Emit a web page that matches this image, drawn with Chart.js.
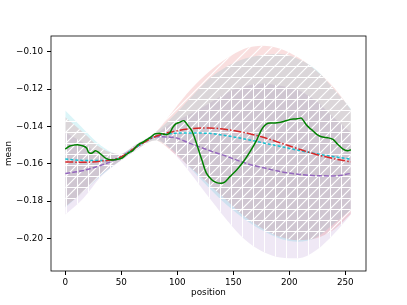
<!DOCTYPE html>
<html>
<head>
<meta charset="utf-8">
<script src="https://cdn.jsdelivr.net/npm/chart.js@4/dist/chart.umd.min.js"></script>
<style>
html, body { margin: 0; padding: 0; background: #fff; }
canvas { display: block; }
</style>
</head>
<body>
<canvas id="chart" width="407" height="305"></canvas>
<script>
// positions where the band curves were read
var bandX = [0, 16, 32, 48, 64, 80, 96, 112, 128, 144, 160, 176, 192, 208, 224, 240, 255];

// mean curves (red dash-dot, cyan dashed, purple dashed)
var redMean    = [-0.1590, -0.1592, -0.1586, -0.1568, -0.1508, -0.1455, -0.1428, -0.1412, -0.1408, -0.1416, -0.1433, -0.1457, -0.1488, -0.1520, -0.1550, -0.1573, -0.1590];
var cyanMean   = [-0.1575, -0.1582, -0.1583, -0.1568, -0.1508, -0.1455, -0.1437, -0.1435, -0.1437, -0.1450, -0.1467, -0.1487, -0.1507, -0.1528, -0.1546, -0.1562, -0.1575];
var purpleMean = [-0.1652, -0.1636, -0.1608, -0.1570, -0.1510, -0.1455, -0.1458, -0.1492, -0.1528, -0.1560, -0.1595, -0.1620, -0.1642, -0.1656, -0.1664, -0.1665, -0.1652];

// band edges
var redUpper    = [-0.1350, -0.1432, -0.1516, -0.1548, -0.1493, -0.1435, -0.1318, -0.1202, -0.1108, -0.1036, -0.0983, -0.0967, -0.0983, -0.1030, -0.1100, -0.1193, -0.1310];
var redLower    = [-0.1830, -0.1752, -0.1656, -0.1588, -0.1523, -0.1475, -0.1538, -0.1622, -0.1708, -0.1796, -0.1883, -0.1947, -0.1993, -0.2010, -0.2000, -0.1953, -0.1870];
var cyanUpper   = [-0.1315, -0.1412, -0.1503, -0.1548, -0.1493, -0.1435, -0.1347, -0.1245, -0.1147, -0.1080, -0.1037, -0.1017, -0.1012, -0.1038, -0.1096, -0.1202, -0.1305];
var cyanLower   = [-0.1835, -0.1752, -0.1663, -0.1588, -0.1523, -0.1475, -0.1527, -0.1625, -0.1727, -0.1820, -0.1897, -0.1957, -0.2002, -0.2018, -0.1996, -0.1922, -0.1845];
var purpleUpper = [-0.1432, -0.1486, -0.1548, -0.1550, -0.1495, -0.1445, -0.1378, -0.1332, -0.1278, -0.1220, -0.1185, -0.1170, -0.1182, -0.1206, -0.1264, -0.1355, -0.1432];
var purpleLower = [-0.1872, -0.1786, -0.1668, -0.1590, -0.1525, -0.1465, -0.1538, -0.1652, -0.1778, -0.1900, -0.2005, -0.2070, -0.2102, -0.2106, -0.2064, -0.1975, -0.1872];

// green observed curve
var greenX = [0, 4, 8, 12, 16, 19, 21, 24, 27, 30, 33, 36, 41, 45, 48, 51, 54, 57, 60, 63, 66, 70, 72, 76, 80, 84, 87, 90, 93, 96, 99, 102, 106, 109, 113, 117, 120, 122, 126, 131, 135, 139, 142, 147, 153, 159, 165, 171, 175, 178, 181, 185, 189, 195, 201, 205, 208, 211, 215, 218, 221, 224, 227, 231, 234, 239, 243, 248, 252, 255];
var greenY = [-0.1521, -0.1505, -0.1500, -0.1499, -0.1505, -0.1515, -0.1540, -0.1542, -0.1530, -0.1540, -0.1555, -0.1570, -0.1580, -0.1578, -0.1575, -0.1568, -0.1553, -0.1540, -0.1531, -0.1510, -0.1494, -0.1482, -0.1473, -0.1458, -0.1440, -0.1437, -0.1440, -0.1444, -0.1437, -0.1405, -0.1385, -0.1378, -0.1369, -0.1391, -0.1423, -0.1488, -0.1545, -0.1580, -0.1650, -0.1687, -0.1701, -0.1705, -0.1700, -0.1669, -0.1633, -0.1589, -0.1535, -0.1472, -0.1420, -0.1395, -0.1383, -0.1382, -0.1380, -0.1373, -0.1362, -0.1360, -0.1358, -0.1356, -0.1390, -0.1408, -0.1423, -0.1440, -0.1451, -0.1458, -0.1460, -0.1469, -0.1494, -0.1521, -0.1530, -0.1525];

var xTicks = [0, 50, 100, 150, 200, 250];
var yTicks = [-0.20, -0.18, -0.16, -0.14, -0.12, -0.10];

function pts(xs, ys) {
    return xs.map(function(x, i) { return {x: x, y: ys[i]}; });
}

// white hatch tiles, like matplotlib hatches
function hatch(kind) {
    var s = 11;
    var c = document.createElement('canvas');
    c.width = s; c.height = s;
    var g = c.getContext('2d');
    g.strokeStyle = '#fff';
    g.fillStyle = '#fff';
    g.lineWidth = 1.2;
    if (kind === '/') {
        g.beginPath();
        g.moveTo(-1, s + 1); g.lineTo(s + 1, -1);
        g.moveTo(-1, 1); g.lineTo(1, -1);
        g.moveTo(s - 1, s + 1); g.lineTo(s + 1, s - 1);
        g.stroke();
    } else if (kind === '-') {
        g.fillRect(0, 0, s, 1);
    } else if (kind === '|') {
        g.fillRect(0, 0, 1, s);
    }
    return g.createPattern(c, 'repeat');
}

function band(upper, lower, color, order) {
    return [
        {data: pts(bandX, upper), fill: '+1', backgroundColor: color, borderWidth: 0, pointRadius: 0,
         cubicInterpolationMode: 'monotone', order: order},
        {data: pts(bandX, lower), fill: false, borderWidth: 0, pointRadius: 0,
         cubicInterpolationMode: 'monotone', order: order}
    ];
}

function meanLine(ys, color, dash, order) {
    return {data: pts(bandX, ys), borderColor: color, borderWidth: 1.5, borderDash: dash,
            pointRadius: 0, fill: false, cubicInterpolationMode: 'monotone', order: order};
}

var datasets = [];
// translucent fills first (drawn underneath)
datasets = datasets.concat(band(redUpper, redLower, 'rgba(214,39,40,0.15)', 30));
datasets = datasets.concat(band(cyanUpper, cyanLower, 'rgba(23,190,207,0.15)', 31));
datasets = datasets.concat(band(purpleUpper, purpleLower, 'rgba(148,103,189,0.15)', 32));
// hatches on top of the fills
datasets = datasets.concat(band(redUpper, redLower, hatch('/'), 20));
datasets = datasets.concat(band(cyanUpper, cyanLower, hatch('-'), 21));
datasets = datasets.concat(band(purpleUpper, purpleLower, hatch('|'), 22));
// lines
datasets.push(meanLine(purpleMean, '#9467bd', [5, 2], 4));
datasets.push(meanLine(cyanMean, '#17becf', [3, 2], 3));
datasets.push(meanLine(redMean, '#d62728', [8, 2, 1.5, 2], 2));
datasets.push({data: pts(greenX, greenY), borderColor: '#008000', borderWidth: 1.5, pointRadius: 0,
               fill: false, tension: 0.3, order: 1});

var boxPlugin = {
    id: 'box',
    afterDraw: function(chart) {
        var a = chart.chartArea;
        var ctx = chart.ctx;
        ctx.save();
        ctx.strokeStyle = '#000';
        ctx.lineWidth = 0.8;
        ctx.strokeRect(a.left, a.top, a.right - a.left, a.bottom - a.top);
        ctx.restore();
    }
};

var font = {family: 'DejaVu Sans', size: 8.8};

new Chart(document.getElementById('chart').getContext('2d'), {
    type: 'line',
    data: {datasets: datasets},
    options: {
        responsive: false,
        animation: false,
        devicePixelRatio: 1,
        layout: {padding: {left: 0, top: 36, right: 41, bottom: 0}},
        plugins: {legend: {display: false}, tooltip: {enabled: false}},
        scales: {
            x: {
                type: 'linear',
                min: -12.75,
                max: 268.5,
                afterBuildTicks: function(scale) {
                    scale.ticks = xTicks.map(function(v) { return {value: v}; });
                },
                afterFit: function(scale) { scale.height = 34; },
                grid: {drawOnChartArea: false, drawTicks: true, tickLength: 4, color: '#000'},
                border: {display: false},
                ticks: {color: '#000', font: font, padding: 2, maxRotation: 0},
                title: {display: true, text: 'position', color: '#000', font: font, padding: {top: 0, bottom: 7}}
            },
            y: {
                type: 'linear',
                min: -0.2175,
                max: -0.0915,
                afterBuildTicks: function(scale) {
                    scale.ticks = yTicks.map(function(v) { return {value: v}; });
                },
                afterFit: function(scale) { scale.width = 51; },
                grid: {drawOnChartArea: false, drawTicks: true, tickLength: 4, color: '#000'},
                border: {display: false},
                ticks: {
                    color: '#000', font: font, padding: 4,
                    callback: function(v) {
                        return (v < 0 ? '\u2212' : '') + Math.abs(v).toFixed(2);
                    }
                },
                title: {display: true, text: 'mean', color: '#000', font: font, padding: {top: 3, bottom: 0}}
            }
        }
    },
    plugins: [boxPlugin]
});
</script>
</body>
</html>
